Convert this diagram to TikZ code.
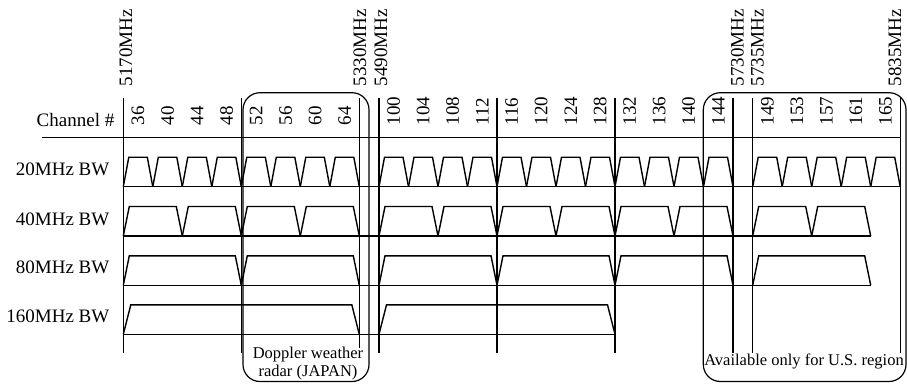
\documentclass[tikz,border=0pt]{standalone}
\usepackage{fontspec}
\setmainfont{Liberation Serif}
\newcommand\trapz[4]{\draw (#1,#3) -- ({#1+#4},{#3-29.5}) -- ({#2-#4},{#3-29.5}) -- (#2,#3);}
\begin{document}
\begin{tikzpicture}[x=1pt,y=-1pt, line width=1.4pt, line join=miter,
  lbl/.style={font=\fontsize{19}{22}\selectfont, inner sep=0pt},
  vlbl/.style={lbl, rotate=90, anchor=west},
  boxtxt/.style={font=\fontsize{16.5}{18}\selectfont, inner sep=0pt, anchor=base},
  region/.style={line width=1.2pt, rounded corners=17pt}]
\useasboundingbox (0,0) rectangle (907,383);
\def\w{29.5}
% region boxes
\draw[region] (243,92.7) rectangle (369,381.5);
\draw[region] (703.3,92.7) rectangle (906,381.5);
% vertical frequency lines
\foreach \x in {123.3,241.3,379,497,615,733,752.7,900.2}
  \draw (\x,98.3) -- (\x,353.3);
\draw (359.3,98.3) -- (359.3,348);
% horizontal lines
\draw (41.7,137.3) -- (900.2,137.3);
\draw (123.3,186.7) -- (900.2,186.7);
\draw (123.3,236) -- (870.7,236);
\draw (123.3,285.3) -- (870.7,285.3);
\draw (123.3,334.3) -- (615,334.3);
% 20 MHz
\foreach \s/\n in {123.3/8, 379/12, 752.7/5}
  \foreach \i in {1,...,\n} {
    \pgfmathsetmacro\xa{\s+(\i-1)*\w}
    \pgfmathsetmacro\xb{\s+\i*\w}
    \trapz{\xa}{\xb}{186.7}{5.5}
  }
% 40 MHz
\foreach \s/\n in {123.3/4, 379/6, 752.7/2}
  \foreach \i in {1,...,\n} {
    \pgfmathsetmacro\xa{\s+(\i-1)*2*\w}
    \pgfmathsetmacro\xb{\s+\i*2*\w}
    \trapz{\xa}{\xb}{236}{6}
  }
% 80 MHz
\foreach \s/\n in {123.3/2, 379/3, 752.7/1}
  \foreach \i in {1,...,\n} {
    \pgfmathsetmacro\xa{\s+(\i-1)*4*\w}
    \pgfmathsetmacro\xb{\s+\i*4*\w}
    \trapz{\xa}{\xb}{285.3}{6}
  }
% 160 MHz
\trapz{123.3}{359.3}{334.3}{7.5}
\trapz{379}{615}{334.3}{7.5}
% channel numbers
\foreach \c [count=\i from 0] in {36,40,...,64}
  \node[vlbl] (ch\c) at ({123.3+(\i+0.5)*\w},126) {\c};
\foreach \c [count=\i from 0] in {100,104,...,144}
  \node[vlbl] (ch\c) at ({379+(\i+0.5)*\w},126) {\c};
\foreach \c [count=\i from 0] in {149,153,...,165}
  \node[vlbl] (ch\c) at ({752.7+(\i+0.5)*\w},126) {\c};
% frequency labels
\node[vlbl] (f5170) at (126,87) {5170MHz};
\node[vlbl] (f5330) at (360,87) {5330MHz};
\node[vlbl] (f5490) at (381,87) {5490MHz};
\node[vlbl] (f5730) at (737.5,87) {5730MHz};
\node[vlbl] (f5735) at (757.5,87) {5735MHz};
\node[vlbl] (f5835) at (895,87) {5835MHz};
% row labels
\node[lbl, anchor=base east] (chan) at (115,126.7) {Channel \#};
\node[lbl, anchor=base east] (bw20) at (110,175) {20MHz BW};
\node[lbl, anchor=base east] (bw40) at (110,225) {40MHz BW};
\node[lbl, anchor=base east] (bw80) at (110,273.3) {80MHz BW};
\node[lbl, anchor=base east] (bw160) at (110,322.7) {160MHz BW};
% box texts
\node[boxtxt] (dop1) at (308,358) {Doppler weather};
\node[boxtxt] (dop2) at (308,376) {radar (JAPAN)};
\node[boxtxt] (usr) at (804,365) {Available only for U.S. region};
\end{tikzpicture}
\end{document}
